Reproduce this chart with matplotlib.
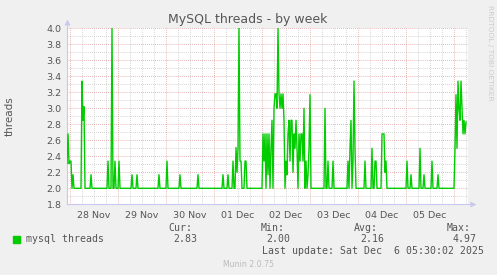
#!/usr/bin/env python3
import matplotlib.pyplot as plt
from matplotlib.ticker import MultipleLocator, FixedLocator

# hours since 28 Nov 00:00, 30 min steps
hours = [
    -1.5, -1.0, -0.5, 0.0, 0.5, 1.0, 1.5, 2.0,
    5.5, 6.0, 6.5, 7.0, 7.5,
    10.0, 10.5, 11.0,
    18.5, 19.0, 19.5, 20.5, 21.0, 21.5, 22.0, 22.5, 23.0,
    24.0, 24.5, 25.0,
    30.5, 31.0, 31.5, 33.0, 33.5, 34.0,
    44.0, 44.5, 45.0, 48.0, 48.5, 49.0,
    54.5, 55.0, 55.5, 63.5, 64.0, 64.5,
    76.0, 76.5, 77.0, 78.5, 79.0, 79.5,
    81.0, 81.5, 82.0, 82.5, 83.0, 83.5, 84.0, 84.5, 85.0, 85.5, 86.0,
    87.0, 87.5, 88.0, 88.5,
    96.0, 96.5, 97.0, 97.5, 98.0, 98.5, 99.0, 99.5, 100.0, 100.5,
    101.0, 101.5, 102.0, 102.5, 103.0, 103.5, 104.0, 104.5, 105.0, 105.5,
    106.0, 106.5, 107.0, 107.5, 108.0, 108.5, 109.0, 109.5, 110.0, 110.5,
    111.0, 111.5, 112.0, 112.5, 113.0, 113.5, 114.0, 114.5, 115.0, 115.5,
    116.0, 116.5, 117.0, 117.5, 118.0, 118.5, 119.0, 119.5, 120.0, 120.5,
    127.0, 127.5, 128.0, 128.5, 129.0, 129.5, 131.0, 131.5, 132.0,
    138.5, 139.0, 139.5, 140.0, 140.5, 141.0, 141.5, 142.0, 142.5, 143.0,
    147.0, 147.5, 148.0,
    150.5, 151.0, 151.5, 152.0, 152.5, 153.0, 153.5,
    155.5, 156.0, 156.5, 157.0, 157.5, 158.0, 158.5,
    168.0, 168.5, 169.0, 170.0, 170.5, 171.0,
    174.5, 175.0, 175.5, 176.5, 177.0, 177.5,
    180.5, 181.0, 181.5, 183.5, 184.0, 184.5,
    192.0, 192.5, 193.0, 193.5, 194.0, 194.5, 195.0, 195.5, 196.0,
    196.5, 197.0, 197.5, 198.0,
]
threads = [
    2.31, 2.68, 2.31, 2.34, 2.34, 2.0, 2.17, 2.0,
    2.0, 3.34, 2.85, 3.02, 2.0,
    2.0, 2.17, 2.0,
    2.0, 2.34, 2.0, 2.0, 4.0, 2.0, 2.0, 2.34, 2.0,
    2.0, 2.34, 2.0,
    2.0, 2.17, 2.0, 2.0, 2.17, 2.0,
    2.0, 2.17, 2.0, 2.0, 2.34, 2.0,
    2.0, 2.17, 2.0, 2.0, 2.17, 2.0,
    2.0, 2.17, 2.0, 2.0, 2.17, 2.0,
    2.0, 2.34, 2.0, 2.0, 2.51, 2.2, 2.5, 4.0, 2.34, 2.34, 2.0,
    2.0, 2.34, 2.34, 2.0,
    2.0, 2.68, 2.34, 2.68, 2.0, 2.68, 2.17, 2.68, 2.0, 2.5,
    2.85, 2.0, 3.0, 3.18, 3.18, 3.0, 4.0, 3.18, 3.0, 3.18,
    3.0, 3.18, 2.85, 2.0, 2.34, 2.17, 2.68, 2.85, 2.34, 2.85,
    2.85, 2.2, 2.68, 2.5, 2.85, 2.5, 2.0, 2.68, 2.34, 2.68,
    2.68, 2.34, 3.0, 2.0, 2.34, 2.0, 2.17, 2.5, 3.17, 2.0,
    2.0, 3.0, 2.0, 2.0, 2.34, 2.0, 2.0, 2.34, 2.0,
    2.0, 2.34, 2.0, 2.5, 2.85, 2.0, 2.34, 3.34, 2.5, 2.0,
    2.0, 2.34, 2.0,
    2.0, 2.5, 2.0, 2.0, 2.34, 2.34, 2.0,
    2.0, 2.68, 2.68, 2.68, 2.2, 2.34, 2.0,
    2.0, 2.34, 2.0, 2.0, 2.17, 2.0,
    2.0, 2.5, 2.0, 2.0, 2.17, 2.0,
    2.0, 2.34, 2.0, 2.0, 2.17, 2.0,
    2.0, 2.5, 3.17, 2.5, 3.34, 3.0, 2.85, 3.34, 3.0,
    2.68, 2.85, 2.68, 2.83,
]

day_labels = ["28 Nov", "29 Nov", "30 Nov", "01 Dec", "02 Dec",
              "03 Dec", "04 Dec", "05 Dec"]
stats_names = ["Cur:", "Min:", "Avg:", "Max:"]
stats_values = ["2.83", "2.00", "2.16", "4.97"]

W, H = 497, 275
def fx(x):
    return x / W
def fy(y):
    return 1 - y / H

text_col = '#555555'
major_col = '#e09a9a'
minor_col = '#c4c4c4'
axis_col = '#c8c8ee'

fig = plt.figure(figsize=(W / 100, H / 100), dpi=100, facecolor='#f0f0f0')
ax = fig.add_axes([fx(67), fy(204.3), fx(468) - fx(67), fy(28.3) - fy(204.3)])
ax.set_facecolor('white')

ax.set_xlim(-1.5, 199)
ax.set_ylim(1.8, 4.0)

# grid: minor grey, major reddish (dotted)
dots = (0, (0.7, 1.4))
for k in range(-1, 34):
    h = k * 6
    if -1.5 < h < 199:
        col = major_col if h % 24 == 0 else minor_col
        ax.axvline(h, color=col, lw=0.7, ls=dots, zorder=1)
for k in range(19, 41):
    v = k / 10
    col = major_col if k % 2 == 0 else minor_col
    ax.axhline(v, color=col, lw=0.7, ls=dots, zorder=1)

ax.plot(hours, threads, color='#00cc00', lw=1.0, zorder=3)

ax.xaxis.set_major_locator(FixedLocator([12 + 24 * i for i in range(len(day_labels))]))
ax.set_xticklabels(day_labels)
ax.yaxis.set_major_locator(MultipleLocator(0.2))
ax.set_yticklabels([f"{t:.1f}" for t in ax.get_yticks()])
ax.tick_params(length=0, labelsize=6.8, labelcolor=text_col, pad=4)
for lbl in ax.get_xticklabels():
    lbl.set_y(-0.005)

for s in ['top', 'right']:
    ax.spines[s].set_visible(False)
for s in ['left', 'bottom']:
    ax.spines[s].set_color(axis_col)
    ax.spines[s].set_linewidth(0.8)
ax.spines['left'].set_bounds(1.8, 4.03)
ax.plot([1.0, 1.008], [0, 0], color=axis_col, lw=0.8, transform=ax.transAxes, clip_on=False)
ax.plot(1.012, 0, marker='>', ms=4, color=axis_col, mec='none',
        transform=ax.transAxes, clip_on=False)
ax.plot(0, 1.035, marker='^', ms=4, color=axis_col, mec='none',
        transform=ax.transAxes, clip_on=False)

fig.text(fx(248), fy(20), "MySQL threads - by week", ha='center', va='center',
         fontsize=9, color=text_col)
fig.text(fx(10), fy(116), "threads", rotation=90, ha='center', va='center',
         fontsize=7.5, color=text_col)
fig.text(fx(490), fy(53), "RRDTOOL / TOBI OETIKER", rotation=270, ha='center',
         va='center', fontsize=5.4, color='#cccccc')

mono = dict(family='DejaVu Sans Mono', fontsize=7.1, color=text_col, va='center')
fig.patches.append(plt.Rectangle((fx(13), fy(243)), 7 / W, 7 / H,
                                 transform=fig.transFigure, color='#00cc00'))
fig.text(fx(26), fy(239.3), "mysql threads", **mono)
name_x = [168, 260.7, 354.3, 446.7]
val_x = [173.3, 266.7, 360, 453]
for n, v, nx, vx in zip(stats_names, stats_values, name_x, val_x):
    fig.text(fx(nx), fy(227.7), n, **mono)
    fig.text(fx(vx), fy(239.3), v, **mono)
fig.text(fx(261.7), fy(251), "Last update: Sat Dec  6 05:30:02 2025", **mono)
fig.text(fx(248), fy(264.3), "Munin 2.0.75", ha='center', va='center',
         fontsize=5.6, color='#bbbbbb')

fig.savefig("out.png", dpi=100, facecolor=fig.get_facecolor())
